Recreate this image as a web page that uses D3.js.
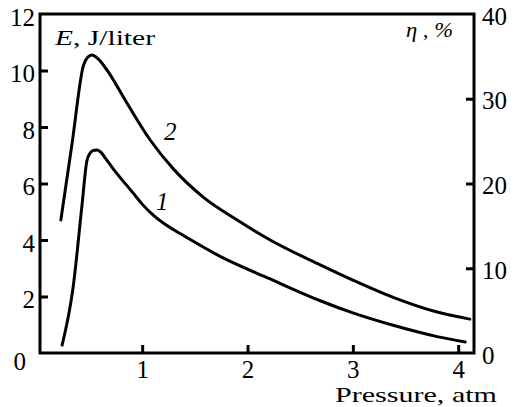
<!DOCTYPE html>
<html>
<head>
<meta charset="utf-8">
<script src="https://cdn.jsdelivr.net/npm/d3@7"></script>
<style>
  body { margin: 0; background: #fff; }
</style>
</head>
<body>
<svg id="chart"></svg>
<script>
// curve 1 (lower) and curve 2 (upper), E in J/liter vs pressure in atm
const pressure1 = [0.24, 0.345, 0.427, 0.475, 0.505, 0.535, 0.57, 0.61, 0.65, 0.725, 0.915, 1.0, 1.105, 1.2, 1.3, 1.427, 1.74, 2.215, 2.69, 3.0, 3.383, 3.8, 4.066]
const energy1 = [0.28, 2.34, 5.17, 6.8, 7.07, 7.17, 7.19, 7.1, 6.9, 6.52, 5.66, 5.27, 4.88, 4.6, 4.36, 4.08, 3.42, 2.62, 1.85, 1.42, 0.98, 0.58, 0.39]
const pressure2 = [0.228, 0.335, 0.443, 0.483, 0.522, 0.58, 0.665, 0.855, 1.076, 1.3, 1.579, 1.902, 2.215, 2.69, 3.0, 3.383, 3.8, 4.11]
const energy2 = [4.71, 7.43, 10.19, 10.47, 10.55, 10.42, 10.02, 8.85, 7.54, 6.5, 5.52, 4.71, 4.0, 3.12, 2.58, 1.97, 1.45, 1.2]
const xTicks = [1, 2, 3, 4]
const leftTicks = [0, 2, 4, 6, 8, 10, 12]
const rightTicks = [0, 10, 20, 30, 40]

const width = 518
const height = 407
const plot = {left: 40, right: 474, top: 14, bottom: 353}
const serif = '"Liberation Serif", "Times New Roman", Times, serif'

// get svg element and add dimensions
const svg = d3.select('#chart')
  .attr('width', width)
  .attr('height', height)

svg.append('rect').attr('width', width).attr('height', height).attr('fill', '#fff')

// scales
const xScale = d3.scaleLinear().domain([0.03, 4.15]).range([plot.left, plot.right])
const yLeft = d3.scaleLinear().domain([0, 12]).range([plot.bottom, plot.top])
const yRight = d3.scaleLinear().domain([0, 40]).range([plot.bottom, plot.top])

// frame
svg.append('rect')
  .attr('x', plot.left).attr('y', plot.top)
  .attr('width', plot.right - plot.left).attr('height', plot.bottom - plot.top)
  .attr('fill', 'none').attr('stroke', '#000').attr('stroke-width', 3)

function styleAxis (g) {
  g.attr('font-family', serif)
  g.select('.domain').remove()
  g.selectAll('.tick line').attr('stroke', '#000').attr('stroke-width', 3)
  g.selectAll('.tick text').style('font-family', serif).style('font-size', '25px').attr('fill', '#000')
}

// left axis
const gl = svg.append('g')
  .attr('transform', `translate(${plot.left},0)`)
  .call(d3.axisLeft(yLeft).tickValues(leftTicks).tickSize(-8).tickPadding(5))
  .call(styleAxis)
gl.selectAll('.tick text').attr('dy', '0.45em')
gl.selectAll('.tick text').filter(d => d === 0).attr('dx', -9).attr('dy', '0.65em')
gl.selectAll('.tick line').filter(d => d === 0 || d === 12).remove()

// right axis
const gr = svg.append('g')
  .attr('transform', `translate(${plot.right},0)`)
  .call(d3.axisRight(yRight).tickValues(rightTicks).tickSize(-8).tickPadding(8))
  .call(styleAxis)
gr.selectAll('.tick text').attr('dy', '0.4em')
gr.selectAll('.tick line').filter(d => d === 0 || d === 40).remove()

// bottom axis
svg.append('g')
  .attr('transform', `translate(0,${plot.bottom})`)
  .call(d3.axisBottom(xScale).tickValues(xTicks).tickFormat(d3.format('d')).tickSize(-8).tickPadding(7))
  .call(styleAxis)

// curves
const line = d3.line()
  .x(d => xScale(d[0]))
  .y(d => yLeft(d[1]))
  .curve(d3.curveMonotoneX)

const series = [d3.zip(pressure1, energy1), d3.zip(pressure2, energy2)]
svg.selectAll('.curve')
  .data(series)
  .enter()
  .append('path')
  .attr('class', 'curve')
  .attr('d', line)
  .attr('fill', 'none')
  .attr('stroke', '#000')
  .attr('stroke-width', 3)
  .attr('stroke-linejoin', 'round')
  .attr('stroke-linecap', 'round')

// curve labels
function label (x, y, size) {
  return svg.append('text').attr('x', x).attr('y', y)
    .style('font-family', serif).style('font-size', size + 'px').attr('fill', '#000')
}
label(164, 140, 25).style('font-style', 'italic').text('2')
label(156, 210, 25).style('font-style', 'italic').text('1')

// axis titles
const eLabel = label(55, 45, 22)
  .attr('textLength', 100).attr('lengthAdjust', 'spacingAndGlyphs')
eLabel.append('tspan').style('font-style', 'italic').text('E')
eLabel.append('tspan').text(', J/liter')

label(406, 37, 22).style('font-style', 'italic')
  .attr('textLength', 47).attr('lengthAdjust', 'spacingAndGlyphs')
  .text('η , %')

label(335, 402, 21)
  .attr('textLength', 162).attr('lengthAdjust', 'spacingAndGlyphs')
  .text('Pressure, atm')
</script>
</body>
</html>
